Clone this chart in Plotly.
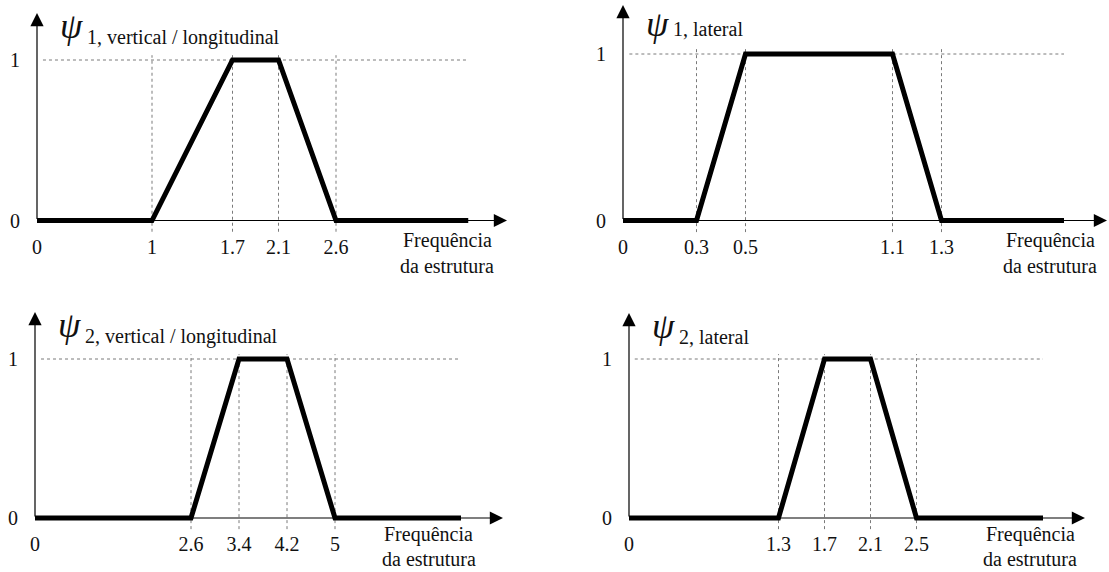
import plotly.graph_objects as go

# Frequency breakpoints of each trapezoidal reduction coefficient
psi1_vl_breaks = [1, 1.7, 2.1, 2.6]
psi1_lat_breaks = [0.3, 0.5, 1.1, 1.3]
psi2_vl_breaks = [2.6, 3.4, 4.2, 5]
psi2_lat_breaks = [1.3, 1.7, 2.1, 2.5]

# Where the flat tail of each curve stops
tail_ends = [3.75, 1.8, 7.1, 3.6]

# Coefficient value at: origin, rise start, plateau start, plateau end, fall end, tail end
psi_levels = [0, 0, 1, 1, 0, 0]

subscripts = ["1, vertical / longitudinal", "1, lateral",
              "2, vertical / longitudinal", "2, lateral"]
x_label_lines = ["Frequência", "da estrutura"]
y_ticks = [0, 1]

W, H = 1109, 572
SERIF = "Liberation Serif, Times New Roman, serif"
INK = "#111"

# Panel placement in pixels: origin, level-1 line, arrow tips, px per unit,
# caption centre (x offset from origin, y offset below the axis)
frames = [
    dict(ox=37, oy=220.5, y1=60, ytip=13, xtip=507, k=115, cx=410, cy=20),
    dict(ox=623, oy=220.5, y1=54, ytip=5, xtip=1107, k=245, cx=427, cy=20),
    dict(ox=35, oy=518, y1=359, ytip=312, xtip=503, k=60, cx=400 - 6, cy=16),
    dict(ox=629, oy=518, y1=359, ytip=313, xtip=1085, k=115, cx=401, cy=16),
]

all_breaks = [psi1_vl_breaks, psi1_lat_breaks, psi2_vl_breaks, psi2_lat_breaks]

fig = go.Figure()
annotations = []
layout_axes = {}


def fmt(v):
    return "%g" % v


def px_y(p):
    return 1 - p / H


for i, (brk, end, sub, fr) in enumerate(zip(all_breaks, tail_ends, subscripts, frames)):
    n = "" if i == 0 else str(i + 1)
    xa, ya = "x" + n, "y" + n
    k, ox, oy = fr["k"], fr["ox"], fr["oy"]
    ky = oy - fr["y1"]
    xmin, xmax = -8 / k, (fr["xtip"] - ox) / k
    ymin, ymax = -12 / ky, (oy - fr["ytip"]) / ky

    # dotted guide lines
    for b in brk:
        fig.add_trace(go.Scatter(x=[b, b], y=[-0.07, 1.03], mode="lines",
                                 line=dict(color="#7a7a7a", width=1, dash="dot"),
                                 xaxis=xa, yaxis=ya, showlegend=False, hoverinfo="skip"))
    fig.add_trace(go.Scatter(x=[0.02 * brk[-1], end], y=[1, 1], mode="lines",
                             line=dict(color="#7a7a7a", width=1, dash="dot"),
                             xaxis=xa, yaxis=ya, showlegend=False, hoverinfo="skip"))

    # trapezoid
    xs = [0] + list(brk) + [end]
    fig.add_trace(go.Scatter(x=xs, y=psi_levels, mode="lines",
                             line=dict(color="black", width=5),
                             xaxis=xa, yaxis=ya, showlegend=False, hoverinfo="skip"))

    layout_axes["xaxis" + n] = dict(
        domain=[(ox - 8) / W, fr["xtip"] / W], range=[xmin, xmax], anchor=ya,
        tickvals=[0] + list(brk), ticktext=[fmt(v) for v in [0] + list(brk)],
        showgrid=False, zeroline=False, showline=False, ticks="",
        tickfont=dict(family=SERIF, size=20, color=INK), ticklabelstandoff=0)
    layout_axes["yaxis" + n] = dict(
        domain=[px_y(oy + 12), px_y(fr["ytip"])], range=[ymin, ymax], anchor=xa,
        tickvals=y_ticks, ticktext=[str(v) for v in y_ticks],
        showgrid=False, zeroline=False, showline=False, ticks="",
        tickfont=dict(family=SERIF, size=20, color=INK), ticklabelstandoff=8)

    # axis arrows
    for (hx, hy) in [(xmax, 0), (0, ymax)]:
        annotations.append(dict(x=hx, y=hy, ax=0, ay=0, xref=xa, yref=ya,
                                axref=xa, ayref=ya, text="", showarrow=True,
                                arrowhead=2, arrowsize=2.2, arrowwidth=1.2,
                                arrowcolor="black", standoff=0, startstandoff=0))

    # title: psi with subscript
    top = fr["ytip"]
    annotations.append(dict(x=(ox + 21) / W, y=px_y(max(top + 13, 24)),
                            xref="paper", yref="paper",
                            xanchor="left", yanchor="middle", showarrow=False,
                            text="<i>ψ</i>", font=dict(family=SERIF, size=36, color=INK)))
    annotations.append(dict(x=(ox + 48) / W, y=px_y(top + 24),
                            xref="paper", yref="paper",
                            xanchor="left", yanchor="middle", showarrow=False,
                            text=sub, font=dict(family=SERIF, size=20, color=INK)))

    # x-axis caption, two centred lines
    for j, line in enumerate(x_label_lines):
        annotations.append(dict(x=(ox + fr["cx"]) / W, y=px_y(oy + fr["cy"] + 25 * j),
                                xref="paper", yref="paper",
                                xanchor="center", yanchor="middle", showarrow=False,
                                text=line, font=dict(family=SERIF, size=20, color=INK)))

fig.update_layout(width=W, height=H, margin=dict(l=0, r=0, t=0, b=0),
                  paper_bgcolor="white", plot_bgcolor="white",
                  annotations=annotations, **layout_axes)

fig.write_html("out.html")
